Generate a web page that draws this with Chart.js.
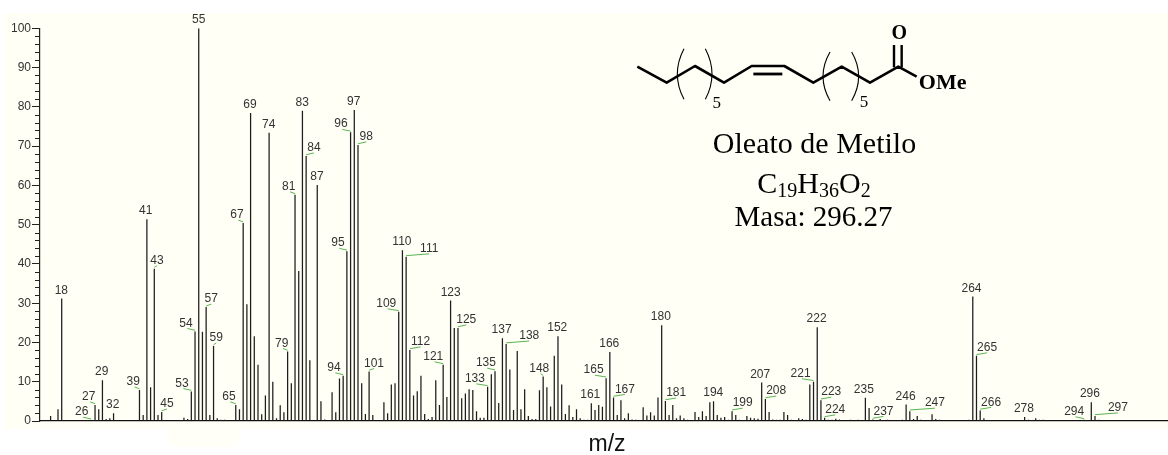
<!DOCTYPE html>
<html>
<head>
<meta charset="utf-8">
<style>html,body{margin:0;padding:0;background:#fff}canvas{display:block}</style>
<script src="https://cdn.jsdelivr.net/npm/chart.js@4"></script>
</head>
<body>
<canvas id="c" width="1168" height="455"></canvas>
<script>
const mzValues = [15,16,17,18,20,26,27,28,29,30,31,32,33,38,39,40,41,42,43,44,45,46,50,51,52,53,54,55,56,57,58,59,60,61,62,64,65,66,67,68,69,70,71,72,73,74,75,76,77,78,79,80,81,82,83,84,85,87,88,89,91,92,93,94,95,96,97,98,99,100,101,102,104,105,106,107,108,109,110,111,112,113,114,115,116,117,118,119,120,121,122,123,124,125,126,127,128,129,130,131,132,133,134,135,136,137,138,139,140,141,142,143,144,145,146,147,148,149,150,151,152,153,154,155,156,157,158,159,160,161,162,163,164,165,166,167,168,169,170,171,172,173,175,176,177,178,179,180,181,182,183,184,185,186,187,189,190,191,192,193,194,195,196,197,198,199,200,201,203,204,205,206,207,208,209,210,211,212,213,214,215,217,218,219,220,221,222,223,224,225,226,227,228,231,233,235,236,237,239,241,245,246,247,248,249,250,253,254,255,263,264,265,266,267,278,279,281,282,283,294,296,297,298];
const intensities = [1.3,0.2,3.0,31.2,0.2,0.2,4.1,3.0,10.4,0.5,0.7,2.0,0.2,0.2,7.9,1.5,51.4,8.6,38.8,1.5,2.3,0.2,0.2,0.8,0.5,7.5,22.8,100,22.7,29,1.5,19.1,0.7,0.3,0.3,0.2,4.1,3,50.4,29.7,78.4,21.6,14.3,1.7,6.5,73.4,10,0.7,4,2.2,17.7,9.6,57.6,38.2,79,67.5,15.5,60.1,5,0.4,7.3,2.2,10.8,11.5,43.2,73.5,79.2,70.3,9.6,1.8,12.6,1.5,0.2,4.8,2,9.3,9.6,27.8,43.5,41.8,18.1,6.5,7.6,11.5,1.8,0.5,1,10.4,4.1,14.3,6.1,30.7,23.7,23.7,5.8,7,8.1,7.9,2.5,0.8,0.8,8.7,11.9,12.7,4.6,21.1,19.6,13.1,2.8,17.8,3,8.1,1.3,0.5,0.5,7.8,11.3,8.6,3.7,16.6,21.6,9.3,1.8,4,1,3,0.7,0.3,0.3,4.5,2.8,4.1,3.6,10.9,17.6,6,1.5,5.3,0.7,2,0.4,0.3,3.5,1.4,2.2,1.4,6,24.4,5.1,1.5,4.1,0.7,1.4,0.7,0.3,2.3,1,2.5,1.3,4.8,5,1.5,0.8,1,0.3,2.5,1.5,0.3,1.3,0.8,0.7,0.6,9.8,5.6,2.3,0.4,0.3,0.3,2.3,1.5,0.3,0.7,0.5,0.3,9.3,10,23.9,5.3,0.8,0.3,0.3,0.6,0.4,0.3,0.3,5.9,3.3,0.4,0.5,0.3,0.3,4.2,2.5,0.5,1.3,0.3,1.7,0.5,0.3,0.3,31.7,16.6,2.7,0.7,1,0.3,0.7,0.3,0.3,0.3,4.8,1.3,0.3];
const peakLabels = [18,26,27,29,32,39,41,43,45,53,54,55,57,59,65,67,69,74,79,81,83,84,87,94,95,96,97,98,101,109,110,111,112,121,123,125,133,135,137,138,148,152,161,165,166,167,180,181,194,199,207,208,221,222,223,224,235,237,246,247,264,265,266,278,294,296,297];
const labelShift = [-0.4,-9.6,-6.3,-0.7,-0.9,-6.2,-1.2,2.7,5.3,-9.3,-9,0,5.1,2.7,-6.8,-6.2,-0.6,-0.4,-5.9,-6.3,-0.2,7.8,-0.3,-9.2,-8.9,-9.6,-0.6,8.3,4.9,-12.5,-0.5,23.1,10.8,-9.9,0.1,8.3,-12.7,-9.1,-0.8,23.1,-3.9,-0.7,-1.1,-12.5,-0.6,11.4,-0.8,10.8,-0.3,10.6,-1.5,10.8,-12.9,-0.6,10.3,10.6,-1.5,10.7,-0.5,25.1,-1.3,10.6,10.9,-0.7,-9.7,-1.4,22.9];
const yTicks = [0,10,20,30,40,50,60,70,80,90,100];
const xAxisTitle = 'm/z';
const compoundName = 'Oleato de Metilo';
const compoundMass = 'Masa: 296.27';
const formulaParts = [['C',0],['19',1],['H',0],['36',1],['O',0],['2',1]];

const SERIF = '"Liberation Serif","Times New Roman",serif';
const SANS = '"Liberation Sans",Arial,sans-serif';

const backdrop = {
  id: 'backdrop',
  beforeDraw(chart) {
    const g = chart.ctx;
    g.save();
    g.fillStyle = '#ffffff'; g.fillRect(0, 0, 1168, 455);
    g.fillStyle = '#fffff5'; g.fillRect(3, 13, 1165, 416);
    g.fillStyle = '#fffff7';
    g.beginPath(); g.roundRect(168, 425, 72, 22, 8); g.fill();
    g.restore();
  }
};

const annotate = {
  id: 'annotate',
  afterDraw(chart) {
    const g = chart.ctx, xs = chart.scales.x, ys = chart.scales.y;
    g.save();
    // minor y ticks
    g.strokeStyle = '#222'; g.lineWidth = 1;
    for (let v = 0; v <= 100; v += 2) {
      if (v % 10 === 0) continue;
      const p = Math.round(ys.getPixelForValue(v)) + 0.5;
      g.beginPath(); g.moveTo(35, p); g.lineTo(40, p); g.stroke();
    }
    // peak labels and leaders
    g.font = '12px ' + SANS; g.textAlign = 'center'; g.textBaseline = 'middle';
    peakLabels.forEach((m, i) => {
      const v = intensities[mzValues.indexOf(m)];
      const px = xs.getPixelForValue(m), top = ys.getPixelForValue(v);
      const dx = labelShift[i], lx = px + dx, ly = top - 8.2;
      if (Math.abs(dx) > 2) {
        g.strokeStyle = '#5ab552'; g.lineWidth = 1;
        g.beginPath();
        g.moveTo(px, top - 1.2);
        g.lineTo(dx < 0 ? lx + 1.3 : lx, top - 3);
        g.stroke();
      }
      g.fillStyle = '#333';
      g.fillText(String(m), lx, ly);
    });
    // axis title
    g.fillStyle = '#111'; g.font = '23px ' + SANS;
    g.fillText(xAxisTitle, 607, 445);
    // molecule
    const O = (zx, zy) => [620 + zx / 3, 10 + zy / 3];
    const poly = (pts, w) => {
      g.lineWidth = w; g.strokeStyle = '#000'; g.lineJoin = 'round'; g.lineCap = 'butt';
      g.beginPath();
      pts.forEach((p, i) => { const q = O(p[0], p[1]); i ? g.lineTo(q[0], q[1]) : g.moveTo(q[0], q[1]); });
      g.stroke();
    };
    poly([[52,170],[140,218],[225,168],[312,218],[395,168],[493,168],[580,218],[665,170],[750,218],[835,170],[890,200]], 2.6);
    poly([[400,192],[487,192]], 2.8);
    poly([[822,172],[822,105]], 2.4);
    poly([[845,172],[845,105]], 2.4);
    const paren = (x0, xm, y0, y1) => {
      g.lineWidth = 1.1; g.strokeStyle = '#000';
      const a = O(x0, y0), b = O(xm, (y0 + y1) / 2), c = O(x0, y1);
      g.beginPath(); g.moveTo(a[0], a[1]); g.quadraticCurveTo(2 * b[0] - a[0], b[1], c[0], c[1]); g.stroke();
    };
    paren(192, 172, 116, 268);
    paren(256, 276, 116, 268);
    paren(630, 609, 126, 272);
    paren(695, 716, 126, 272);
    g.fillStyle = '#000'; g.textBaseline = 'alphabetic';
    g.textAlign = 'center';
    g.font = '17px ' + SERIF;
    g.fillText('5', 620 + 290 / 3, 10 + 295 / 3);
    g.fillText('5', 620 + 732 / 3, 10 + 290 / 3);
    g.font = 'bold 20px ' + SERIF;
    g.fillText('O', 620 + 838 / 3, 10 + 88 / 3);
    g.font = 'bold 22px ' + SERIF;
    g.fillText('OMe', 620 + 968 / 3, 10 + 238 / 3);
    // compound text
    g.font = '30px ' + SERIF;
    g.fillText(compoundName, 814.5, 153);
    g.font = '29px ' + SERIF;
    g.fillText(compoundMass, 813.5, 226);
    let total = 0;
    const fontFor = s => (s ? '20px ' : '30px ') + SERIF;
    formulaParts.forEach(([t, s]) => { g.font = fontFor(s); total += g.measureText(t).width; });
    let x = 814 - total / 2;
    g.textAlign = 'left';
    formulaParts.forEach(([t, s]) => {
      g.font = fontFor(s);
      g.fillText(t, x, s ? 197 : 193);
      x += g.measureText(t).width;
    });
    g.restore();
  }
};

new Chart(document.getElementById('c'), {
  type: 'bar',
  data: {
    datasets: [{
      data: mzValues.map((m, i) => ({ x: m, y: intensities[i] })),
      backgroundColor: '#1c1c1c',
      barThickness: 1.25,
      inflateAmount: 0,
      borderWidth: 0
    }]
  },
  options: {
    responsive: false,
    animation: false,
    events: [],
    layout: { padding: { top: 28.3, left: 0, right: 0, bottom: 0 } },
    plugins: { legend: { display: false }, tooltip: { enabled: false }, title: { display: false } },
    scales: {
      x: {
        type: 'linear', min: 12.14, max: 316.71, offset: false,
        grid: { display: false },
        border: { display: true, color: '#111', width: 1.2 },
        ticks: { display: false },
        afterFit: s => { s.height = 34; }
      },
      y: {
        min: 0, max: 100,
        afterBuildTicks: s => { s.ticks = yTicks.map(v => ({ value: v })); },
        grid: { drawOnChartArea: false, drawTicks: true, tickLength: 8, color: '#222' },
        border: { display: true, color: '#222', width: 1.2 },
        ticks: { color: '#333', font: { family: SANS, size: 12 }, padding: 1, autoSkip: false, maxRotation: 0 },
        afterFit: s => { s.width = 40; }
      }
    }
  },
  plugins: [backdrop, annotate]
});
</script>
</body>
</html>
